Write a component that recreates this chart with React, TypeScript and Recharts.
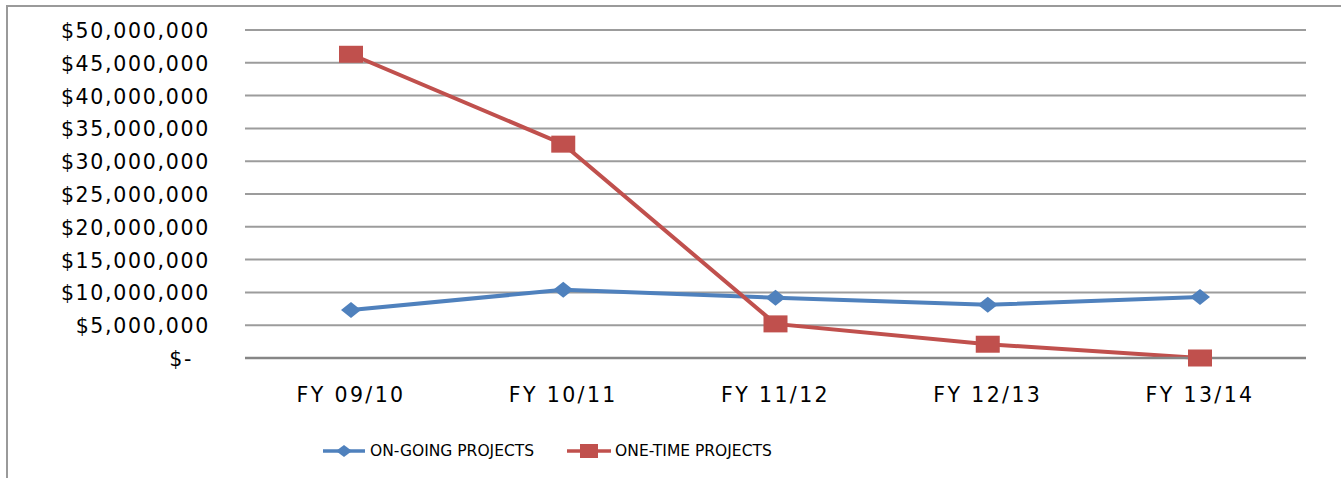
import { LineChart, Line, XAxis, YAxis, CartesianGrid, Legend } from 'recharts';

const years = ['FY 09/10', 'FY 10/11', 'FY 11/12', 'FY 12/13', 'FY 13/14'];
const onGoing = [7300000, 10400000, 9200000, 8100000, 9300000];
const oneTime = [46300000, 32600000, 5200000, 2100000, 0];
const yTicks = [0, 5000000, 10000000, 15000000, 20000000, 25000000, 30000000, 35000000, 40000000, 45000000, 50000000];

const BLUE = '#4F81BD';
const RED = '#C0504D';
const FONT = '"DejaVu Sans", sans-serif';

const data = years.map((year, i) => ({
  year,
  onGoing: onGoing[i],
  oneTime: oneTime[i],
}));

const fmtMoney = (v: number) => (v === 0 ? '$-' : '$' + v.toLocaleString('en-US'));

const YTick = (props: any) => {
  const { x, y, payload } = props;
  const v = payload.value;
  return (
    <text
      x={v === 0 ? x - 17 : x}
      y={y}
      dy={8}
      textAnchor="end"
      fontFamily={FONT}
      fontSize={20.5}
      letterSpacing={1.7}
      fill="#000"
    >
      {fmtMoney(v)}
    </text>
  );
};

const XTick = (props: any) => {
  const { x, y, payload } = props;
  return (
    <text x={x} y={y} dy={14} textAnchor="middle" fontFamily={FONT} fontSize={20.5} letterSpacing={2.4} fill="#000">
      {payload.value}
    </text>
  );
};

const Diamond = (props: any) => {
  const { cx, cy } = props;
  if (cx == null || cy == null) return null;
  return <polygon points={`${cx - 10},${cy} ${cx},${cy - 8} ${cx + 10},${cy} ${cx},${cy + 8}`} fill={BLUE} />;
};

const Square = (props: any) => {
  const { cx, cy } = props;
  if (cx == null || cy == null) return null;
  return <rect x={cx - 12} y={cy - 8.5} width={24} height={17} fill={RED} />;
};

const LegendContent = () => (
  <div style={{ display: 'flex', alignItems: 'center', fontFamily: FONT, fontSize: 15.5, color: '#000' }}>
    <svg width={42} height={20}>
      <line x1={0} y1={10} x2={42} y2={10} stroke={BLUE} strokeWidth={3.5} />
      <polygon points="13,10 21,4 29,10 21,16" fill={BLUE} />
    </svg>
    <span style={{ marginLeft: 5 }}>ON-GOING PROJECTS</span>
    <svg width={44} height={20} style={{ marginLeft: 33 }}>
      <line x1={0} y1={10} x2={44} y2={10} stroke={RED} strokeWidth={3.5} />
      <rect x={13} y={3} width={18} height={14} fill={RED} />
    </svg>
    <span style={{ marginLeft: 4 }}>ONE-TIME PROJECTS</span>
  </div>
);

export default function App() {
  return (
    <div style={{ position: 'absolute', left: 0, top: 0, width: 1341, height: 478, overflow: 'hidden', background: '#fff' }}>
      <div
        style={{
          position: 'absolute',
          left: 6,
          top: 5,
          width: 1400,
          height: 520,
          border: '2px solid #9a9a9a',
        }}
      />
      <div style={{ position: 'absolute', left: 0, top: 0 }}>
        <LineChart width={1341} height={478} data={data} margin={{ top: 30, right: 35, bottom: 60, left: 0 }}>
          <CartesianGrid horizontal vertical={false} stroke="#9c9c9c" strokeWidth={2} />
          <XAxis
            dataKey="year"
            height={60}
            padding={{ left: 106, right: 106 }}
            tickLine={false}
            tickSize={0}
            tickMargin={30}
            stroke="#868686"
            strokeWidth={2.5}
            tick={<XTick />}
          />
          <YAxis
            width={245}
            domain={[0, 50000000]}
            ticks={yTicks}
            axisLine={false}
            tickLine={false}
            tickSize={0}
            tickMargin={35}
            tick={<YTick />}
          />
          <Legend
            layout="horizontal"
            verticalAlign="middle"
            align="center"
            content={<LegendContent />}
            wrapperStyle={{ position: 'absolute', top: 441, left: 323, width: 700 }}
          />
          <Line
            dataKey="onGoing"
            name="ON-GOING PROJECTS"
            stroke={BLUE}
            strokeWidth={4}
            dot={<Diamond />}
            activeDot={false}
            isAnimationActive={false}
          />
          <Line
            dataKey="oneTime"
            name="ONE-TIME PROJECTS"
            stroke={RED}
            strokeWidth={4}
            dot={<Square />}
            activeDot={false}
            isAnimationActive={false}
          />
        </LineChart>
      </div>
    </div>
  );
}
